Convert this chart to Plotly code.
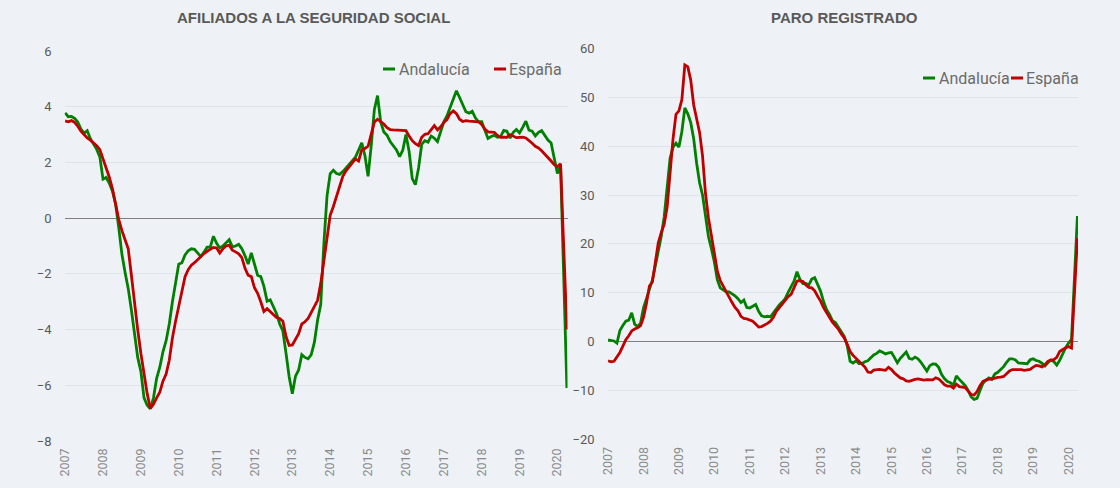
import plotly.graph_objects as go

# ---------------- data ----------------
years = ["2007", "2008", "2009", "2010", "2011", "2012", "2013",
         "2014", "2015", "2016", "2017", "2018", "2019", "2020"]

# monthly categories Jan-2007 .. Apr-2020
months = [f"{y}-{m:02d}" for y in range(2007, 2021) for m in range(1, 13)][:160]

# Afiliados a la Seguridad Social (% interanual)
afi_andalucia = [
    3.78, 3.64, 3.65, 3.58, 3.45, 3.2, 3.05, 3.14, 2.85, 2.68,
    2.47, 2.2, 1.4, 1.46, 1.25, 0.97, 0.5, -0.35, -1.3, -1.95,
    -2.53, -3.3, -4.2, -5.0, -5.5, -6.45, -6.72, -6.84, -6.45, -5.75,
    -5.35, -4.8, -4.4, -3.8, -3.0, -2.25, -1.65, -1.6, -1.32, -1.17,
    -1.1, -1.12, -1.27, -1.38, -1.22, -1.04, -1.03, -0.65, -0.9, -1.07,
    -1.0, -0.87, -0.77, -1.03, -1.0, -0.94, -1.1, -1.35, -1.65, -1.25,
    -1.65, -2.05, -2.1, -2.45, -2.98, -2.93, -3.18, -3.43, -3.8, -4.05,
    -4.85, -5.7, -6.3, -5.67, -5.45, -4.9, -5.0, -5.05, -4.9, -4.45,
    -3.66, -3.1, -0.9, 0.8, 1.6, 1.72, 1.6, 1.57, 1.67, 1.8,
    1.93, 2.05, 2.19, 2.44, 2.7, 2.25, 1.5, 2.6, 3.9, 4.4,
    3.45, 3.09, 2.98, 2.75, 2.58, 2.45, 2.21, 2.44, 3.0, 2.4,
    1.42, 1.2, 1.8, 2.65, 2.78, 2.73, 2.95, 2.87, 2.75, 3.12,
    3.46, 3.67, 3.98, 4.3, 4.57, 4.33, 4.05, 3.82, 3.77, 3.84,
    3.6, 3.46, 3.46, 3.19, 2.86, 2.93, 2.97, 2.9, 2.93, 3.15,
    3.12, 2.87, 3.08, 3.18, 3.06, 3.26, 3.48, 3.16, 3.12, 2.95,
    3.08, 3.14, 2.95, 2.8, 2.7, 2.1, 1.6, 1.9, -2.2, -6.1,
]
afi_espana = [
    3.49, 3.46, 3.5, 3.44, 3.3, 3.12, 3.0, 2.88, 2.8, 2.7,
    2.6, 2.46, 2.13, 1.85, 1.47, 1.05, 0.5, -0.05, -0.45, -0.75,
    -1.1, -2.05, -3.1, -4.0, -4.85, -5.6, -6.3, -6.83, -6.68, -6.45,
    -6.25, -5.85, -5.6, -5.1, -4.3, -3.7, -3.15, -2.6, -2.1, -1.85,
    -1.69, -1.6, -1.49, -1.36, -1.27, -1.19, -1.12, -1.05, -1.07, -1.25,
    -1.1, -1.0, -0.97, -1.15, -1.21, -1.28, -1.42, -1.8, -2.05, -2.1,
    -2.5, -2.7, -3.0, -3.35, -3.25, -3.36, -3.49, -3.57, -3.6, -3.7,
    -4.25, -4.57, -4.55, -4.35, -4.15, -3.8, -3.72, -3.6, -3.4, -3.2,
    -2.95, -2.35, -1.5, -0.55, 0.1, 0.42, 0.8, 1.15, 1.5, 1.7,
    1.86, 1.98, 2.13, 2.05, 2.45, 2.5, 2.58, 3.0, 3.45, 3.55,
    3.47, 3.38, 3.25, 3.18, 3.17, 3.16, 3.16, 3.16, 3.14, 2.95,
    2.78, 2.67, 2.6, 2.9, 3.01, 3.03, 3.18, 3.32, 3.17, 3.28,
    3.43, 3.54, 3.75, 3.85, 3.75, 3.55, 3.47, 3.5, 3.48, 3.48,
    3.46, 3.46, 3.36, 3.2, 3.1, 3.1, 3.08, 2.97, 2.9, 2.91,
    2.9, 3.0, 2.93, 2.89, 2.9, 2.91, 2.88, 2.8, 2.69, 2.58,
    2.52, 2.42, 2.3, 2.2, 2.05, 1.92, 1.85, 1.95, -1.0, -4.0,
]

# Paro registrado (% interanual)
paro_andalucia = [
    0.35, 0.3, 0.15, -0.3, 2.3, 3.3, 4.2, 4.4, 5.9, 3.6,
    3.1, 3.8, 6.9, 8.8, 10.8, 12.6, 15.5, 18.3, 21.5, 25.5,
    32.0, 37.5, 39.8, 40.6, 39.8, 43.0, 47.8, 46.6, 44.8, 41.5,
    36.5, 32.5, 30.0, 26.0, 21.5, 19.0, 16.3, 12.7, 11.0, 10.6,
    10.2, 10.2, 9.8, 9.4, 8.8, 8.0, 8.5, 7.0, 6.9, 7.2,
    7.6, 6.2, 5.3, 5.1, 5.2, 5.1, 5.9, 6.9, 7.5, 8.1,
    8.8, 10.1, 11.3, 12.4, 14.3, 12.7, 11.9, 11.9, 11.6, 12.8,
    13.1, 11.6, 10.3, 8.2, 6.6, 5.6, 4.3, 3.9, 3.0, 2.2,
    1.1, -0.8, -4.0, -4.35, -3.9, -4.5, -4.5, -4.1, -3.9, -3.3,
    -2.7, -2.4, -1.9, -2.15, -2.5, -2.3, -2.2, -3.2, -4.3, -3.4,
    -2.7, -2.1, -3.4, -3.6, -3.15, -3.5, -4.2, -5.0, -6.0, -4.9,
    -4.55, -4.6, -5.25, -6.7, -7.6, -8.15, -8.4, -8.9, -7.0, -7.7,
    -8.4, -9.0, -10.0, -11.3, -11.8, -11.6, -10.0, -8.5, -7.9, -7.4,
    -7.7, -6.6, -6.25, -5.65, -5.1, -4.2, -3.5, -3.5, -3.75, -4.35,
    -4.4, -4.5, -4.5, -3.7, -3.5, -3.85, -4.0, -4.4, -4.95, -4.3,
    -3.8, -4.05, -4.8, -3.8, -2.5, -1.2, -0.3, 0.5, 13.0, 25.7,
]
paro_espana = [
    -3.9, -4.1, -4.0, -3.2, -2.2, -0.9, 0.4, 1.2, 2.2, 2.6,
    2.85, 3.3, 5.0, 7.8, 11.4, 12.2, 16.6, 20.2, 22.3, 24.0,
    27.5, 35.0, 41.5, 46.5, 47.2, 49.5, 56.6, 56.2, 53.5, 48.4,
    45.3, 42.8, 38.0, 30.3, 25.3, 21.7, 17.5, 14.5, 12.5, 11.3,
    10.2, 9.2, 8.0, 7.0, 6.3, 5.2, 4.75, 4.65, 4.45, 4.2,
    3.6, 3.0, 3.1, 3.4, 3.75, 4.2, 5.0, 6.2, 7.0, 7.6,
    8.4, 9.2, 9.7, 10.9, 12.4, 12.5, 12.3, 11.6, 11.1, 11.0,
    10.4, 9.3, 8.3, 7.0, 5.9, 5.0, 4.0, 3.3, 2.6, 1.6,
    0.8, -0.5, -2.0, -2.8, -3.4, -4.0, -4.45, -5.2, -6.2, -6.3,
    -5.8, -5.65, -5.65, -5.75, -5.85, -5.25, -5.7, -6.4, -7.0, -7.4,
    -7.6, -8.0, -8.1, -7.85, -7.7, -7.6, -7.8, -7.85, -7.75, -7.7,
    -7.8, -7.4, -7.6, -8.2, -8.8, -9.1, -9.1, -9.5, -8.7, -9.2,
    -9.3, -9.4, -10.1, -10.8, -10.9, -10.2, -9.0, -8.1, -7.85, -7.65,
    -7.65, -7.45, -7.3, -7.25, -7.1, -6.55, -6.0, -5.7, -5.65, -5.65,
    -5.7, -5.85, -5.8, -5.65, -5.2, -4.85, -4.95, -5.15, -4.7, -4.0,
    -3.7, -3.65, -3.2, -2.0, -1.6, -1.3, -1.0, -1.3, 9.0, 21.2,
]

series_names = ["Andalucía", "España"]
titles = ["AFILIADOS A LA SEGURIDAD SOCIAL", "PARO REGISTRADO"]

# ---------------- style ----------------
W, H = 1120, 488
BG = "#eef2f6"
GREEN = "#008000"
RED = "#c00000"
GRID = "#dfe4ea"
ZERO = "#7f7f7f"
TXT = "#595959"
XTXT = "#8a8a8a"
FONT = "Roboto, Liberation Sans, Arial, sans-serif"
LW = 2.8


def px(x):
    return x / W


def py(y):
    return 1 - y / H


fig = go.Figure()
fig.add_trace(go.Scatter(x=months, y=afi_andalucia, mode="lines", name=series_names[0],
                         line=dict(color=GREEN, width=LW), xaxis="x", yaxis="y"))
fig.add_trace(go.Scatter(x=months, y=afi_espana, mode="lines", name=series_names[1],
                         line=dict(color=RED, width=LW), xaxis="x", yaxis="y"))
fig.add_trace(go.Scatter(x=months, y=paro_andalucia, mode="lines", name=series_names[0],
                         line=dict(color=GREEN, width=LW), xaxis="x2", yaxis="y2"))
fig.add_trace(go.Scatter(x=months, y=paro_espana, mode="lines", name=series_names[1],
                         line=dict(color=RED, width=LW), xaxis="x2", yaxis="y2"))

xcommon = dict(type="category", range=[-0.2, 159.2], tickvals=months[::12], ticktext=years,
               tickangle=-90, showgrid=False, zeroline=False, showline=False, ticks="",
               automargin=False,
               tickfont=dict(family=FONT, size=12.5, color=XTXT), ticklabelstandoff=4)
ycommon = dict(showgrid=True, gridcolor=GRID, gridwidth=1, zeroline=True,
               zerolinecolor=ZERO, zerolinewidth=1, showline=False, ticks="",
               automargin=False,
               tickfont=dict(family=FONT, size=13, color=TXT), ticklabelstandoff=12)

fig.update_layout(
    width=W, height=H,
    margin=dict(l=0, r=0, t=0, b=0, autoexpand=False),
    paper_bgcolor=BG, plot_bgcolor=BG,
    showlegend=False,
    xaxis=dict(domain=[px(64.5), px(567.5)], anchor="y", **xcommon),
    yaxis=dict(domain=[py(441), py(51)], range=[-8, 6], tickvals=[-8, -6, -4, -2, 0, 2, 4, 6],
               anchor="x", **ycommon),
    xaxis2=dict(domain=[px(607.5), px(1078)], anchor="y2", **xcommon),
    yaxis2=dict(domain=[py(439.5), py(48.3)], range=[-20, 60],
                tickvals=[-20, -10, 0, 10, 20, 30, 40, 50, 60], anchor="x2", **ycommon),
)

annotations = []
shapes = []
# titles
for t, cx in zip(titles, [313, 844]):
    annotations.append(dict(text=f"<b>{t}</b>", x=px(cx), y=py(18), xref="paper", yref="paper",
                            xanchor="center", yanchor="middle", showarrow=False,
                            font=dict(family="Liberation Sans, Arial, sans-serif", size=15, color=TXT)))

# legends (short dash + label)
legend_specs = [
    [(383, 397, 69), (494, 507, 69)],
    [(923, 937, 78), (1011, 1024, 78)],
]
for chart in legend_specs:
    for (dx, tx, ly), name, col in zip(chart, series_names, [GREEN, RED]):
        shapes.append(dict(type="line", xref="paper", yref="paper", x0=px(dx), x1=px(dx + 12),
                           y0=py(ly), y1=py(ly), line=dict(color=col, width=3)))
        annotations.append(dict(text=name, x=px(tx), y=py(ly), xref="paper", yref="paper",
                                xanchor="left", yanchor="middle", showarrow=False,
                                font=dict(family=FONT, size=16, color="#6b6b6b")))

fig.update_layout(annotations=annotations, shapes=shapes)

fig.write_html("out.html", config={"displayModeBar": False},
               post_script="document.body.style.margin='0px';")
